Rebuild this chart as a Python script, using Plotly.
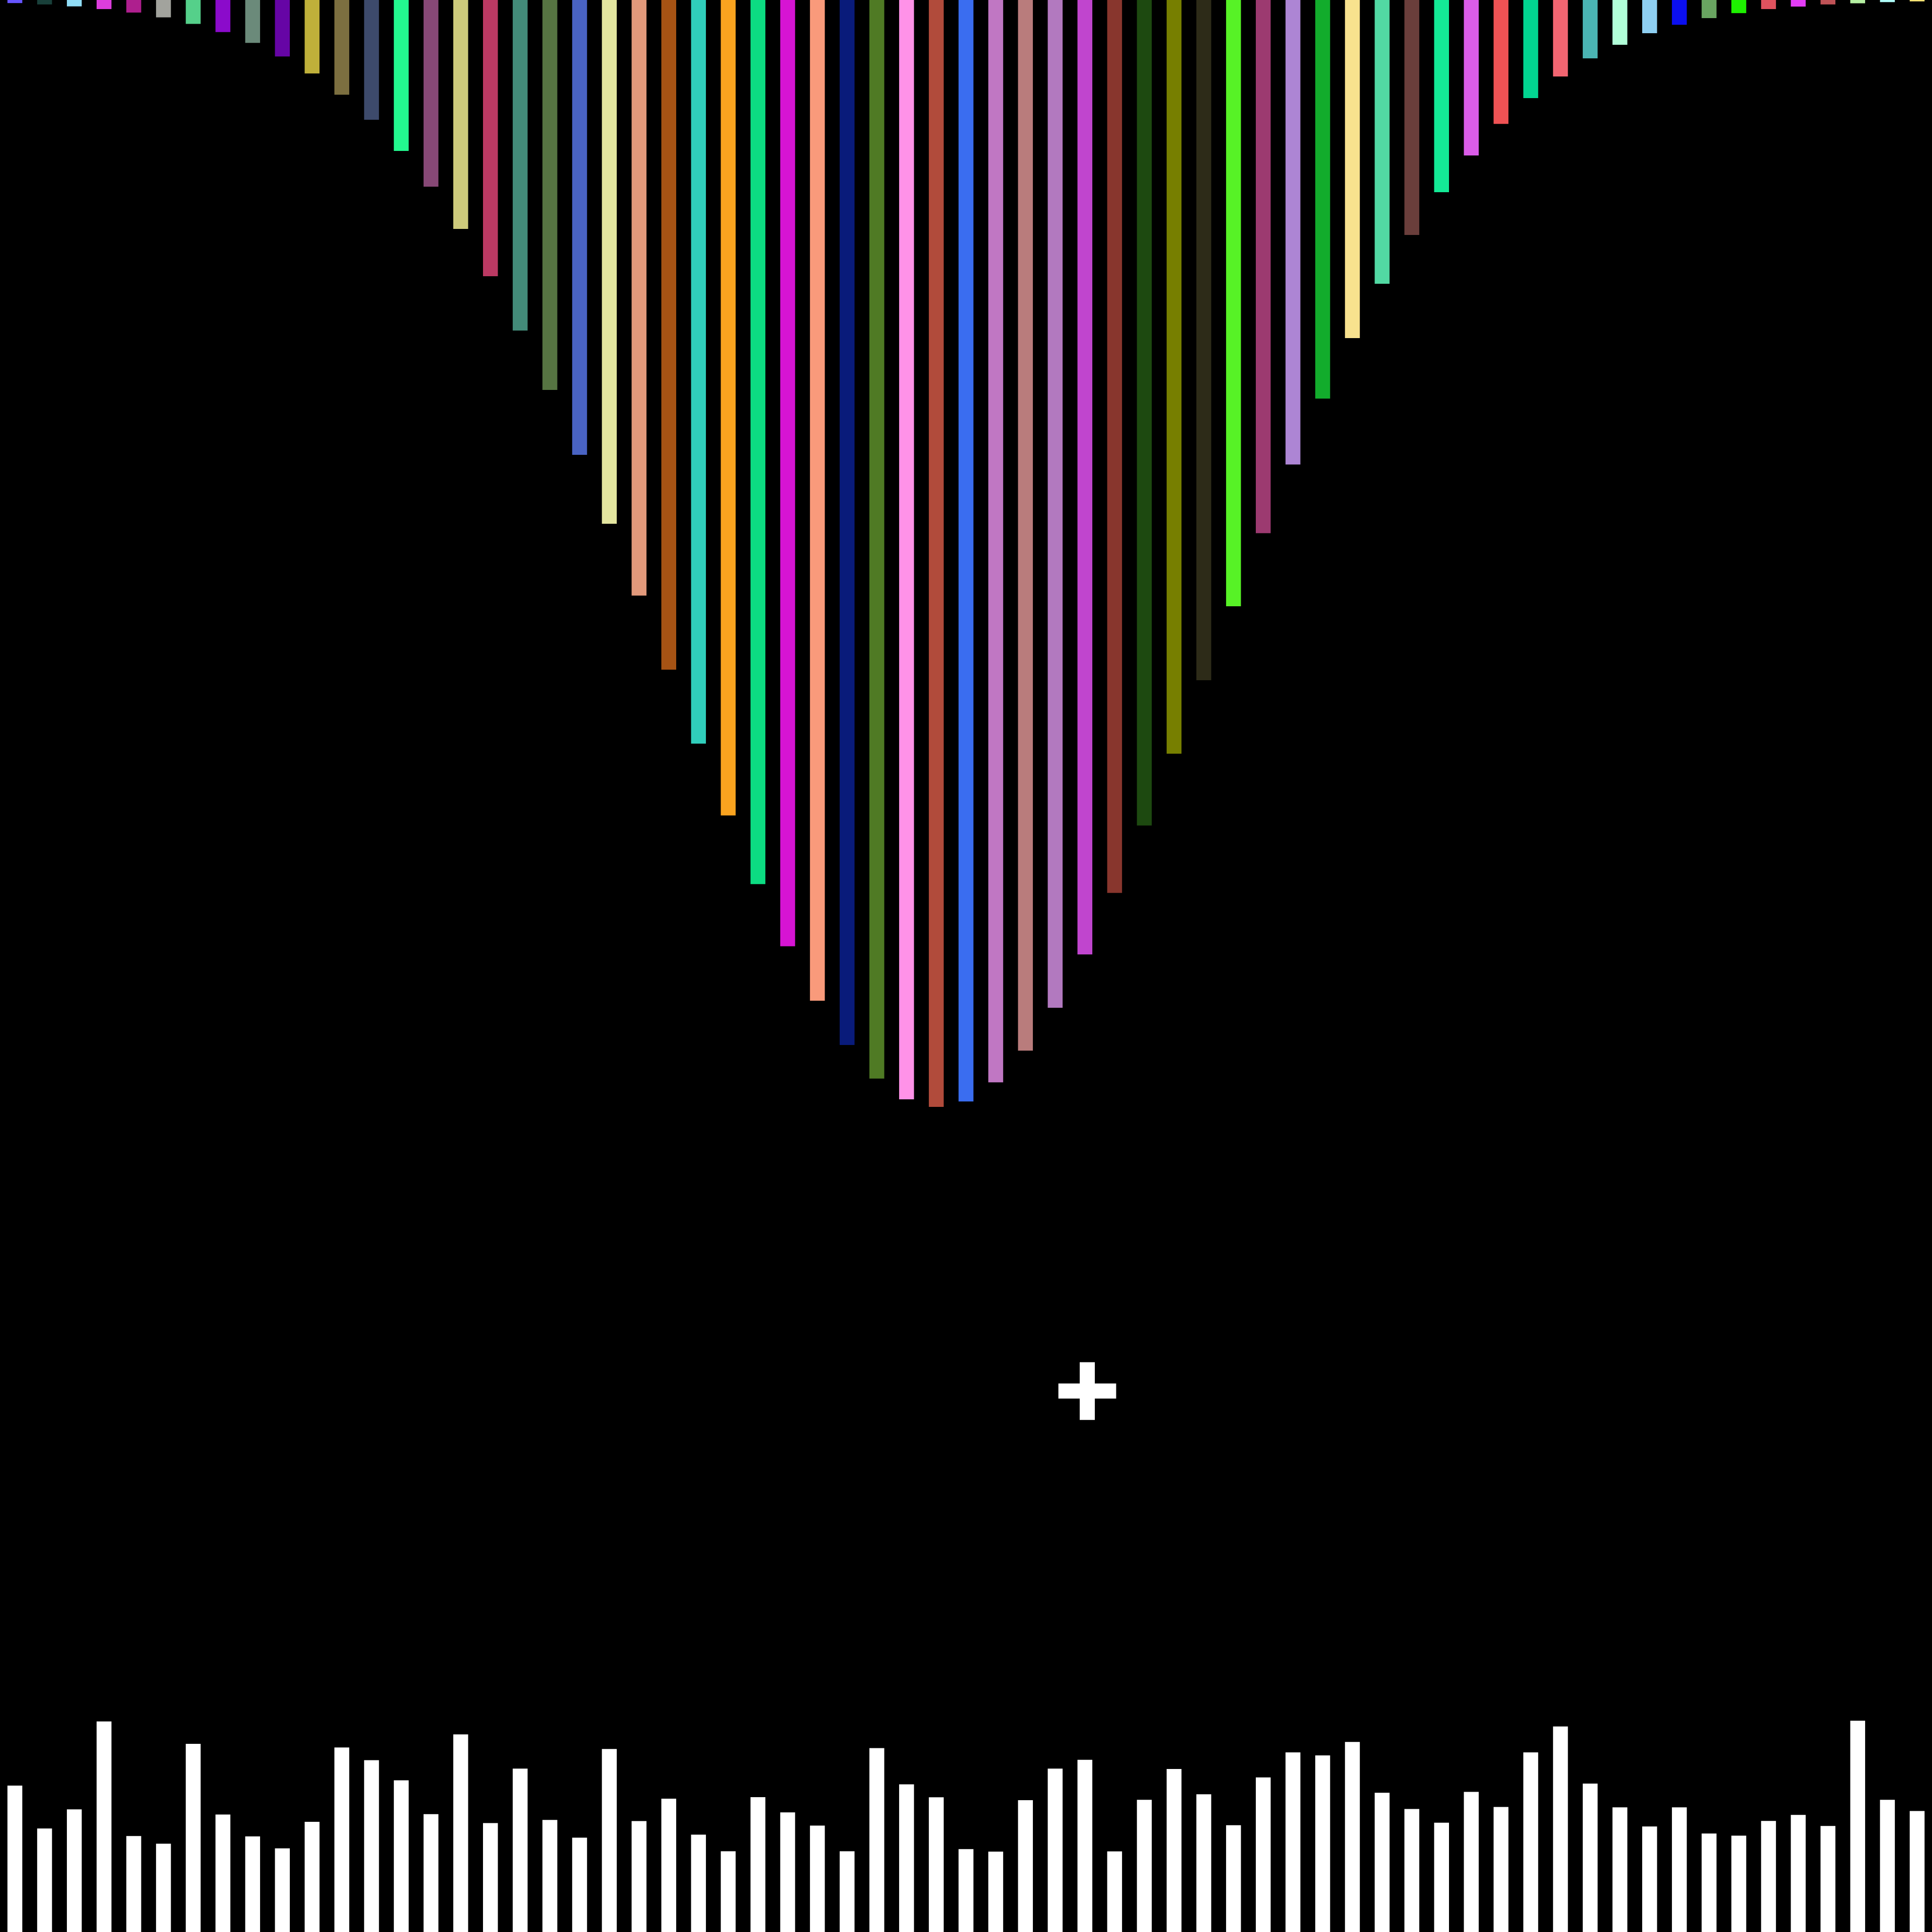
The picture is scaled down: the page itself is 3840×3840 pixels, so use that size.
import plotly.graph_objects as go

categories = list(range(65))

top_values = [0.16, 0.23, 0.33, 0.47, 0.65, 0.90, 1.24, 1.66, 2.22, 2.92,
              3.80, 4.90, 6.20, 7.81, 9.66, 11.85, 14.30, 17.11, 20.18, 23.54,
              27.11, 30.83, 34.66, 38.49, 42.21, 45.76, 48.98, 51.80, 54.09, 55.83,
              56.90, 57.29, 57.01, 56.02, 54.38, 52.16, 49.40, 46.22, 42.73, 39.01,
              35.21, 31.38, 27.60, 24.04, 20.63, 17.50, 14.69, 12.16, 9.95, 8.05,
              6.41, 5.08, 3.96, 3.02, 2.32, 1.72, 1.28, 0.94, 0.68, 0.47,
              0.34, 0.23, 0.17, 0.11, 0.07]

top_colors = ["#6655ff", "#19403a", "#90ddf6", "#dd3ddd", "#ae1f8e", "#a2a39d", "#55d08a", "#8b0bcb",
              "#6b8a7a", "#6605a5", "#bfb03a", "#7c6f40", "#3d4a6b", "#23f98f", "#874876", "#cdca7b",
              "#bb3963", "#438b79", "#567442", "#4963c3", "#e3e59f", "#e2997b", "#a65314", "#30cebb",
              "#f9a31f", "#0cdc82", "#d614d3", "#f99a7b", "#091b7a", "#4f7a24", "#ff92e8", "#b14b3b",
              "#3a6df0", "#c077c3", "#b97c7c", "#b279bf", "#c045ce", "#88362d", "#1d4910", "#777f00",
              "#2d2b18", "#57f226", "#9c3a70", "#ad85d4", "#12ac2c", "#f8e28e", "#52d9a3", "#6a3e3b",
              "#14ea96", "#da5ce8", "#ef5254", "#02d591", "#f26571", "#4ab4b3", "#b1ffd8", "#8ecff2",
              "#0b0fef", "#69a561", "#1ef100", "#e0525e", "#e33cf6", "#bf5256", "#b5f0a2", "#aefcf8",
              "#fde876"]

bottom_values = [7.58, 5.36, 6.35, 10.90, 4.97, 4.57, 9.74, 6.08, 4.95, 4.33,
                 5.70, 9.55, 8.89, 7.85, 6.10, 10.23, 5.64, 8.46, 5.80, 4.88,
                 9.47, 5.74, 6.90, 5.04, 4.18, 6.98, 6.19, 5.51, 4.18, 9.52,
                 7.64, 6.97, 4.29, 4.16, 6.82, 8.46, 8.91, 4.17, 6.84, 8.44,
                 7.13, 5.53, 8.00, 9.30, 9.14, 9.84, 7.21, 6.37, 5.66, 7.25,
                 6.47, 9.30, 10.64, 7.68, 6.45, 5.46, 6.45, 5.10, 4.99, 5.75,
                 6.06, 5.49, 10.94, 6.84, 6.26]

cross_x = [36.08]
cross_y = [28.0]

fig = go.Figure()

fig.add_trace(go.Bar(
    x=categories, y=top_values, width=0.5, yaxis="y2",
    marker=dict(color=top_colors, line=dict(width=0)),
    hoverinfo="skip", showlegend=False,
))

fig.add_trace(go.Bar(
    x=categories, y=bottom_values, width=0.5,
    marker=dict(color="#ffffff", line=dict(width=0)),
    hoverinfo="skip", showlegend=False,
))

fig.add_trace(go.Scatter(
    x=cross_x, y=cross_y, mode="markers",
    marker=dict(symbol="cross-thin", size=82, color="#ffffff",
                line=dict(color="#ffffff", width=30)),
    hoverinfo="skip", showlegend=False,
))

fig.update_layout(
    width=3840, height=3840,
    margin=dict(l=0, r=0, t=0, b=0, pad=0),
    paper_bgcolor="#000000", plot_bgcolor="#000000",
    showlegend=False,
    xaxis=dict(range=[-0.5, 64.5], visible=False, showgrid=False, zeroline=False, fixedrange=True),
    yaxis=dict(range=[0, 100], visible=False, showgrid=False, zeroline=False, fixedrange=True),
    yaxis2=dict(range=[100, 0], overlaying="y", visible=False, showgrid=False, zeroline=False, fixedrange=True),
)

fig.write_html(
    "out.html",
    config={"displayModeBar": False, "staticPlot": True},
    post_script="document.body.style.margin='0';document.body.style.padding='0';"
                "document.body.style.background='#000';"
                "document.documentElement.style.background='#000';",
)
